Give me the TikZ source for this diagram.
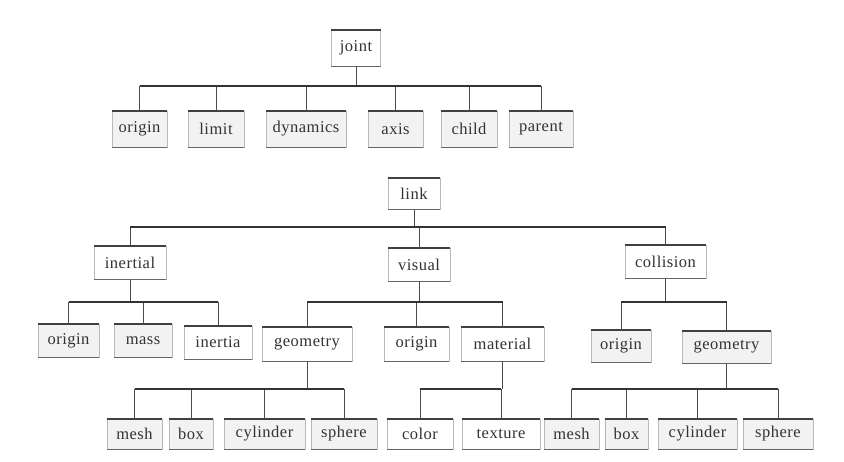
\documentclass[tikz,border=0pt]{standalone}
\usepackage{fontspec}
\setmainfont[LetterSpace=3]{Liberation Serif}
\begin{document}
\begin{tikzpicture}[x=1pt,y=-1pt,
    box/.style={draw=gray!55, line width=0.4pt, fill=white, text=black!80,
      font=\fontsize{16.5}{19}\selectfont, inner sep=0pt},
    leaf/.style={box, fill=gray!10},
    toprule/.style={black!75, line width=1.8pt},
    botrule/.style={black!60, line width=1.1pt},
    stem/.style={black!70, line width=0.7pt},
    bus/.style={black!80, line width=1.3pt}]
    \useasboundingbox (0,0) rectangle (844,462);

    % joint
    \node [box, minimum width=49pt, minimum height=36pt] (joint) at (356,48) {joint};
    \begin{scope}[every node/.style={leaf, minimum height=36pt}]
        \node [minimum width=55pt] (jorigin) at (139.5,129) {origin};
        \node [minimum width=56pt] (jlimit) at (216,129) {limit};
        \node [minimum width=80pt] (jdyn) at (306,129) {dynamics};
        \node [minimum width=55pt] (jaxis) at (395.5,129) {axis};
        \node [minimum width=56pt] (jchild) at (469,129) {child};
        \node [minimum width=64pt] (jparent) at (541,129) {parent};
    \end{scope}

    % link
    \node [box, minimum width=52pt, minimum height=31pt] (link) at (414,194) {link};
    \begin{scope}[every node/.style={box, minimum height=33pt}]
        \node [minimum width=72pt] (inertial) at (130,263) {inertial};
        \node [minimum width=62pt] (visual) at (419,264.5) {visual};
        \node [minimum width=81pt] (collision) at (665.5,261.5) {collision};
    \end{scope}

    % inertial
    \node [leaf, minimum width=61pt, minimum height=33pt] (iorigin) at (68.5,341) {origin};
    \node [leaf, minimum width=58pt, minimum height=33pt] (imass) at (143,341) {mass};
    \node [box, minimum width=68pt, minimum height=33pt] (iinertia) at (218,342.5) {inertia};

    % visual
    \begin{scope}[every node/.style={box, minimum height=34pt}]
        \node [minimum width=90pt] (vgeom) at (307,344) {geometry};
        \node [minimum width=65pt] (vorigin) at (416.5,344) {origin};
        \node [minimum width=83pt] (vmat) at (502.5,344) {material};
    \end{scope}

    % collision
    \node [leaf, minimum width=60pt, minimum height=32pt] (corigin) at (621,346) {origin};
    \node [leaf, minimum width=89pt, minimum height=32pt] (cgeom) at (726.5,347) {geometry};

    % geometry, material
    \begin{scope}[every node/.style={leaf, minimum height=30pt}]
        \node [minimum width=55pt] (vmesh) at (134.5,434) {mesh};
        \node [minimum width=44pt] (vbox) at (191,434) {box};
        \node [minimum width=81pt] (vcyl) at (264.5,434) {cylinder};
        \node [minimum width=66pt] (vsph) at (344,434) {sphere};
        \node [box, minimum width=66pt] (vcolor) at (420,434) {color};
        \node [box, minimum width=78pt] (vtex) at (501,434) {texture};
        \node [minimum width=55pt] (cmesh) at (571.5,434) {mesh};
        \node [minimum width=43pt] (cbox) at (626.5,434) {box};
        \node [minimum width=79pt] (ccyl) at (697.5,434) {cylinder};
        \node [minimum width=70pt] (csph) at (778,434) {sphere};
    \end{scope}

    % линейки сверху и снизу
    \foreach \n in {joint,jorigin,jlimit,jdyn,jaxis,jchild,jparent,
                    link,inertial,visual,collision,iorigin,imass,iinertia,
                    vgeom,vorigin,vmat,corigin,cgeom,
                    vmesh,vbox,vcyl,vsph,vcolor,vtex,cmesh,cbox,ccyl,csph} {
        \draw [toprule] (\n.north west) -- (\n.north east);
        \draw [botrule] (\n.south west) -- (\n.south east);
    }

    % шины
    \coordinate (jbus) at (0,86);
    \coordinate (lbus) at (0,227);
    \coordinate (sbus) at (0,302);
    \coordinate (gbus) at (0,389);

    % joint -> ...
    \draw [stem] (joint.south) -- (joint.south |- jbus);
    \foreach \c in {jorigin,jlimit,jdyn,jaxis,jchild,jparent}
        \draw [stem] (\c.north) -- (\c.north |- jbus);
    \draw [bus] (jorigin.north |- jbus) -- (jparent.north |- jbus);

    % link -> ...
    \draw [stem] (link.south) -- (link.south |- lbus);
    \foreach \c in {inertial,visual,collision}
        \draw [stem] (\c.north) -- (\c.north |- lbus);
    \draw [bus] (inertial.north |- lbus) -- (collision.north |- lbus);

    % inertial, visual, collision -> ...
    \foreach \p/\a/\b/\cs in {inertial/iorigin/iinertia/{iorigin,imass,iinertia},
                              visual/vgeom/vmat/{vgeom,vorigin,vmat},
                              collision/corigin/cgeom/{corigin,cgeom}} {
        \draw [stem] (\p.south) -- (\p.south |- sbus);
        \foreach \c in \cs
            \draw [stem] (\c.north) -- (\c.north |- sbus);
        \draw [bus] (\a.north |- sbus) -- (\b.north |- sbus);
    }

    % geometry, material -> ...
    \foreach \p/\a/\b/\cs in {vgeom/vmesh/vsph/{vmesh,vbox,vcyl,vsph},
                              vmat/vcolor/vtex/{vcolor,vtex},
                              cgeom/cmesh/csph/{cmesh,cbox,ccyl,csph}} {
        \draw [stem] (\p.south) -- (\p.south |- gbus);
        \foreach \c in \cs
            \draw [stem] (\c.north) -- (\c.north |- gbus);
        \draw [bus, line width=2pt] (\a.north |- gbus) -- (\b.north |- gbus);
    }
\end{tikzpicture}
\end{document}
